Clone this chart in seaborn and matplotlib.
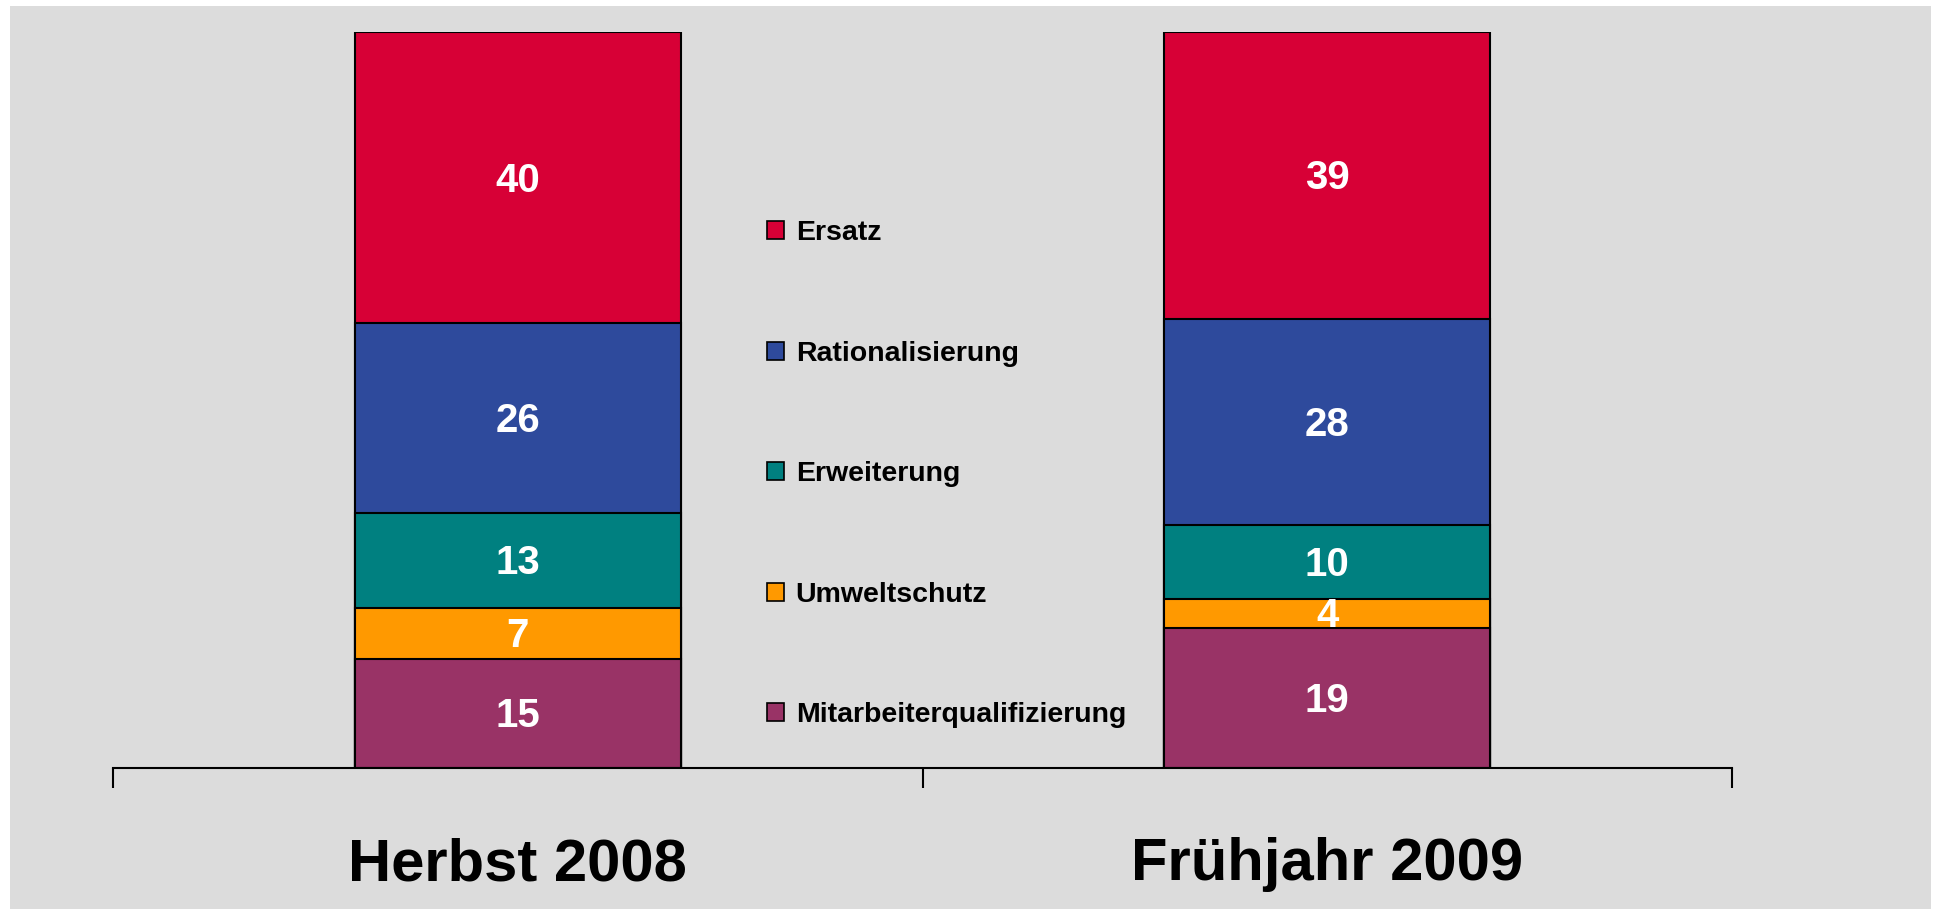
import numpy as np
import pandas as pd
import seaborn as sns
import matplotlib.pyplot as plt
from matplotlib.patches import Patch, Rectangle

# data (bottom to top of the stack)
periods = ['Herbst 2008', 'Frühjahr 2009']
categories = ['Mitarbeiterqualifizierung', 'Umweltschutz', 'Erweiterung',
              'Rationalisierung', 'Ersatz']
herbst_2008 = [15, 7, 13, 26, 40]
fruehjahr_2009 = [19, 4, 10, 28, 39]

colors = ['#993366', '#FF9900', '#008080', '#2E4A9C', '#D70036']

vals = np.array([herbst_2008, fruehjahr_2009], dtype=float)
shares = vals / vals.sum(axis=1, keepdims=True) * 100
tops = np.cumsum(shares, axis=1)

plt.rcParams['font.family'] = ['Liberation Sans', 'DejaVu Sans']
plt.rcParams['font.weight'] = 'bold'

fig = plt.figure(figsize=(19.34, 9.09), dpi=100, facecolor='white')
fig.patches.append(Rectangle((10 / 1934, 0), 1921 / 1934, 1 - 6 / 909,
                             transform=fig.transFigure, facecolor='#DCDCDC',
                             edgecolor='none', zorder=-10))
ax = fig.add_axes([113 / 1934, 141 / 909, 1619 / 1934, 736 / 909])
ax.set_facecolor('none')

# overlapping cumulative bars, tallest first
for i in reversed(range(len(categories))):
    df = pd.DataFrame({'period': periods, 'top': tops[:, i]})
    sns.barplot(data=df, x='period', y='top', color=colors[i], saturation=1,
                width=0.403, edgecolor='black', linewidth=1.5, ax=ax)

for j in range(len(periods)):
    for i in range(len(categories)):
        mid = tops[j, i] - shares[j, i] / 2
        ax.text(j, mid - 0.4, f'{int(vals[j, i])}', ha='center', va='center',
                color='white', fontsize=29, fontweight='bold')

ax.set_xlim(-0.5, 1.5)
ax.set_ylim(0, 100)
ax.set_xlabel('')
ax.set_ylabel('')
ax.set_yticks([])
for s in ['top', 'right', 'left']:
    ax.spines[s].set_visible(False)
ax.spines['bottom'].set_linewidth(1.5)

ax.set_xticks([-0.5, 0.5, 1.5])
ax.set_xticklabels([])
ax.tick_params(axis='x', which='major', length=14.4, width=1.5, direction='out')
ax.set_xticks([0, 1], minor=True)
ax.set_xticklabels(periods, minor=True, fontsize=43, fontweight='bold')
ax.tick_params(axis='x', which='minor', length=0, pad=50)

handles = [Patch(facecolor=colors[i], edgecolor='black', linewidth=1.2,
                 label=categories[i]) for i in reversed(range(len(categories)))]
fig.legend(handles=handles, loc='upper left', bbox_to_anchor=(753 / 1934, 1 - 206 / 909),
           frameon=False, fontsize=20.5, labelspacing=3.32, handlelength=0.6,
           handleheight=0.6, handletextpad=0.4, borderpad=0)

plt.savefig('out.png', dpi=100, facecolor='white')
